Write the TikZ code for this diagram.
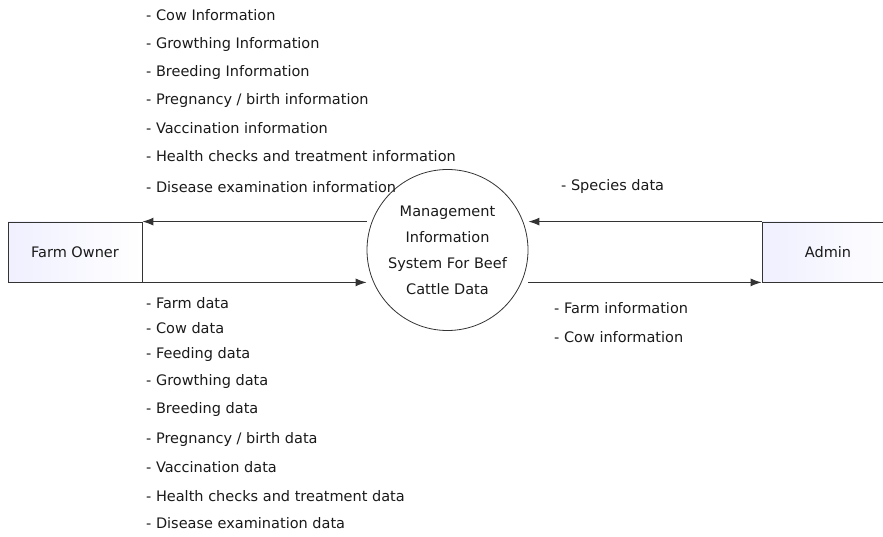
\documentclass[tikz,border=0pt]{standalone}
\usepackage{fontspec}
\setmainfont{DejaVu Sans}
\usetikzlibrary{arrows.meta}
\definecolor{lin}{HTML}{333333}
\definecolor{txt}{HTML}{1a1a1a}
\newcommand{\lblfont}{\fontsize{14.5}{17}\selectfont}
\tikzset{
  lbl/.style={anchor=west,inner sep=0pt,font=\lblfont,text=txt},
  entity/.style={draw=lin,line width=0.8pt,left color=blue!6,right color=white,minimum height=60pt,inner sep=0pt,font=\lblfont,text=txt},
  proc/.style={circle,draw=lin,line width=0.8pt,minimum size=161pt,inner sep=0pt,align=center,font=\fontsize{14.5}{26}\selectfont,text=txt},
  flow/.style={draw=lin,line width=1.1pt,-{Latex[length=11pt,width=8pt]}}
}
\begin{document}
\begin{tikzpicture}[x=1pt,y=-1pt]
\useasboundingbox (0,0) rectangle (883,537);
\node[entity,minimum width=134pt] (fo) at (75,252) {Farm Owner};
\begin{scope}
\clip (0,0) rectangle (883,537);
\node[entity,minimum width=140pt] (ad) at (832,252) {};
\end{scope}
\node[inner sep=0pt,font=\lblfont,text=txt] (adt) at (828,252) {Admin};
\node[proc] (mis) at (447.5,250) {Management\\Information\\System For Beef\\Cattle Data};
% flows
\draw[flow] (fo.north east -| mis.west) -- (fo.north east);
\draw[flow] (fo.south east) -- (fo.south east -| mis.west);
\draw[flow] (ad.north west) -- (ad.north west -| mis.east);
\draw[flow] (ad.south west -| mis.east) -- (ad.south west);
% top labels
\node[lbl] (t1) at (146,15) {- Cow Information};
\node[lbl] (t2) at (146,45) {- Growthing Information};
\node[lbl] (t3) at (146,73) {- Breeding Information};
\node[lbl] (t4) at (146,101) {- Pregnancy / birth information};
\node[lbl] (t5) at (146,128) {- Vaccination information};
\node[lbl] (t6) at (146,156) {- Health checks and treatment information};
\node[lbl] (t7) at (146,187) {- Disease examination information};
% bottom labels
\node[lbl] (b1) at (146,303) {- Farm data};
\node[lbl] (b2) at (146,328) {- Cow data};
\node[lbl] (b3) at (146,354) {- Feeding data};
\node[lbl] (b4) at (146,381) {- Growthing data};
\node[lbl] (b5) at (146,409) {- Breeding data};
\node[lbl] (b6) at (146,439) {- Pregnancy / birth data};
\node[lbl] (b7) at (146,467) {- Vaccination data};
\node[lbl] (b8) at (146,496) {- Health checks and treatment data};
\node[lbl] (b9) at (146,523) {- Disease examination data};
% right labels
\node[lbl] (r1) at (561,187) {- Species data};
\node[lbl] (r2) at (554,308) {- Farm information};
\node[lbl] (r3) at (554,337) {- Cow information};
\end{tikzpicture}
\end{document}
